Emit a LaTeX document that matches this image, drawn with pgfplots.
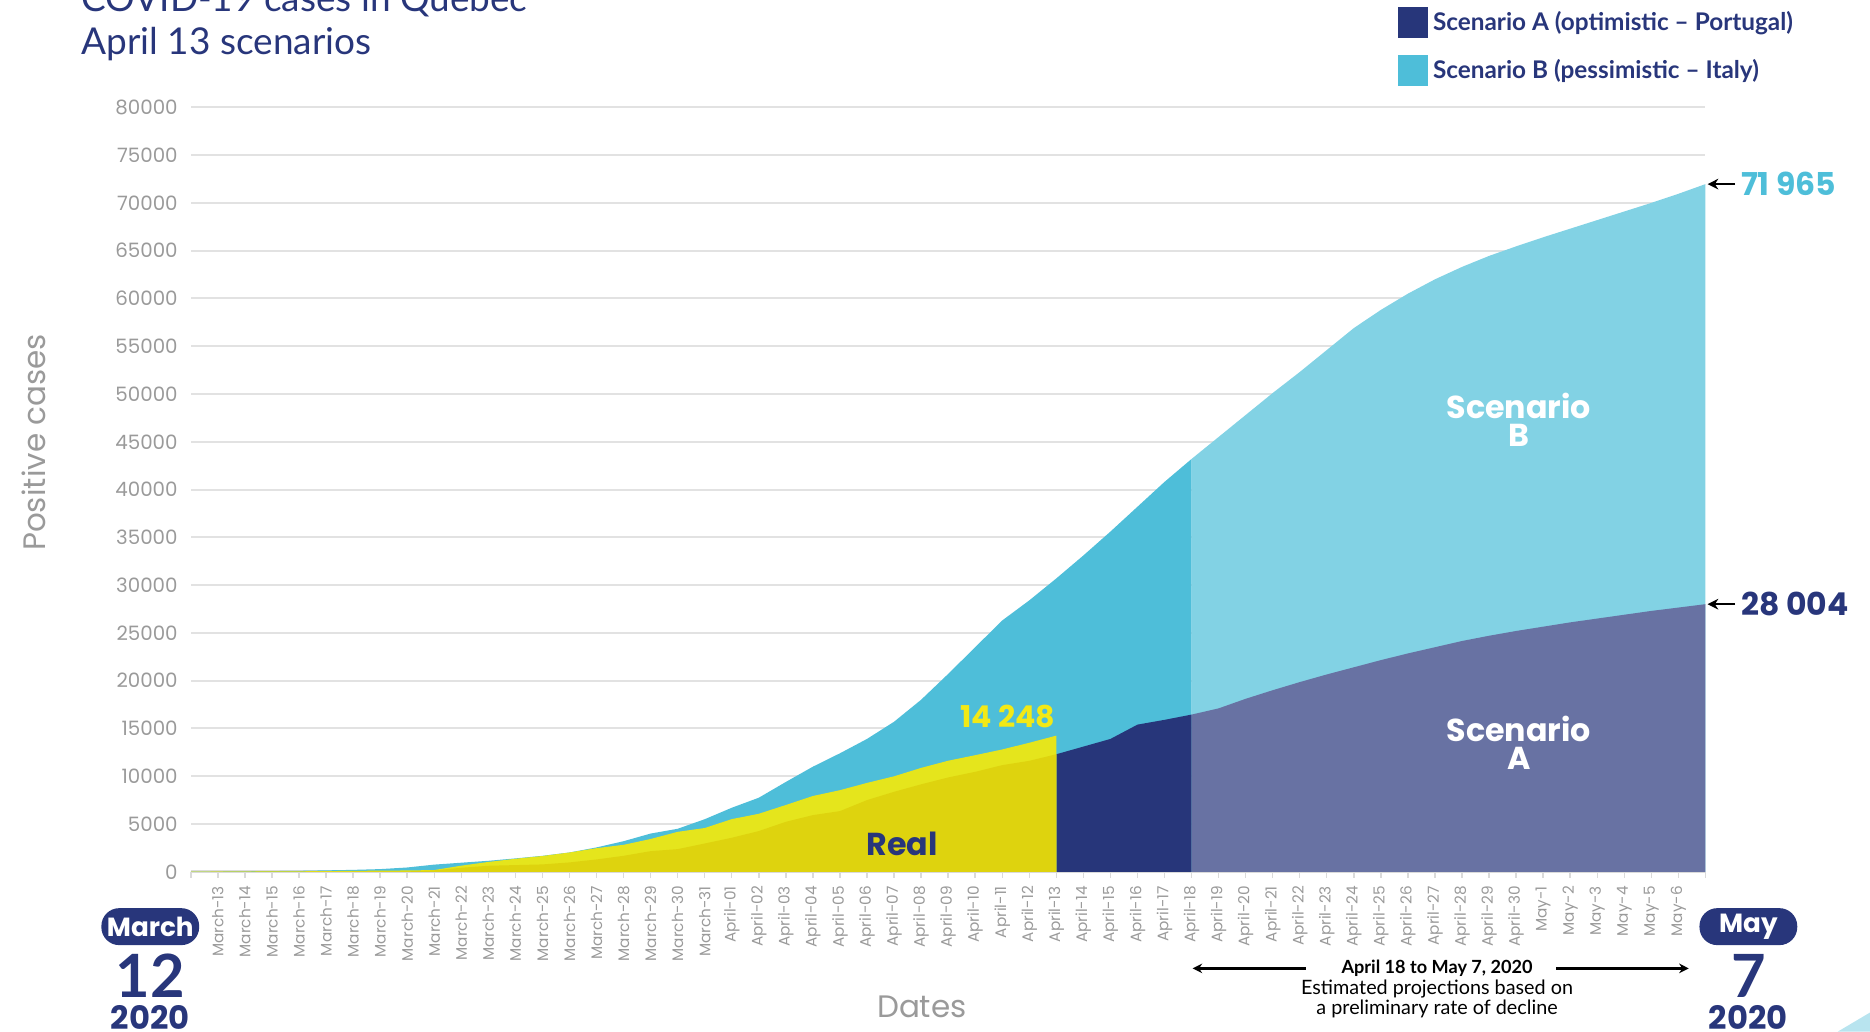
\documentclass[border=0pt]{standalone}
\usepackage{pgfplots}
\pgfplotsset{compat=1.18}
\usepackage{fontspec}
\setmainfont{Lato}
\newfontfamily\pop{Poppins}
\usetikzlibrary{arrows.meta}
\definecolor{navy}{HTML}{28367B}
\definecolor{bdark}{HTML}{4EBED9}
\definecolor{blight}{HTML}{82D2E4}
\definecolor{adark}{HTML}{27367A}
\definecolor{alight}{HTML}{6872A3}
\definecolor{rbright}{HTML}{E5E51C}
\definecolor{rdark}{HTML}{DED30E}
\definecolor{ylab}{HTML}{F2E916}
\definecolor{gridgray}{HTML}{E2E2E2}
\definecolor{axgray}{HTML}{DADADA}
\definecolor{tickgray}{HTML}{9A9A9A}
\definecolor{corner}{HTML}{B8E4EF}
\begin{document}
\begin{tikzpicture}
\begin{axis}[
  at={(0pt,0pt)}, anchor=south west,
  scale only axis, width=635pt, height=320.5pt,
  xmin=0, xmax=56, ymin=0, ymax=80000,
  clip=false,
  axis x line*=bottom, axis y line*=left,
  x axis line style={draw=axgray, line width=1.2pt, -},
  y axis line style={draw=none},
  ymajorgrids, grid style={draw=gridgray, line width=0.8pt},
  ytick={0,5000,...,80000},
  scaled y ticks=false,
  ytick style={draw=none},
  yticklabel style={font=\pop\fontsize{8.3}{10}\selectfont, text=tickgray, /pgf/number format/1000 sep={}, /pgf/number format/assume math mode=true, xshift=-2pt},
  xtick={0,...,56},
  xticklabels={,March-13,March-14,March-15,March-16,March-17,March-18,March-19,March-20,March-21,March-22,March-23,March-24,March-25,March-26,March-27,March-28,March-29,March-30,March-31,April-01,April-02,April-03,April-04,April-05,April-06,April-07,April-08,April-09,April-10,April-11,April-12,April-13,April-14,April-15,April-16,April-17,April-18,April-19,April-20,April-21,April-22,April-23,April-24,April-25,April-26,April-27,April-28,April-29,April-30,May-1,May-2,May-3,May-4,May-5,May-6,},
  xtick align=outside,
  major tick length=2.5pt,
  x tick style={draw=axgray, line width=0.6pt},
  xticklabel style={rotate=90, anchor=east, font=\pop\fontsize{6.4}{7}\selectfont, text=tickgray},
  legend style={at={(axis description cs:0.797,1.1326)}, anchor=north west, draw=none, fill=none,
    font=\bfseries\fontsize{10.2}{12}\selectfont, text=navy, row sep=6.75pt, inner sep=0pt},
  legend cell align=left,
  legend image code/.code={\path[#1] (0pt,-6.5pt) rectangle (12.5pt,6.5pt);},
]
\addlegendimage{fill=adark, draw=none}
\addlegendentry{Scenario A (optimistic – Portugal)}
\addlegendimage{fill=bdark, draw=none}
\addlegendentry{Scenario B (pessimistic – Italy)}

% Scenario B, observed period
\addplot[fill=bdark, draw=none, forget plot] coordinates {
(0,20) (1,25) (2,50) (3,75) (4,100) (5,150) (6,200) (7,280) (8,450) (9,750)
(10,950) (11,1150) (12,1400) (13,1670) (14,2020) (15,2550) (16,3200) (17,4000)
(18,4500) (19,5500) (20,6700) (21,7750) (22,9400) (23,11000) (24,12400)
(25,13900) (26,15700) (27,18000) (28,20700) (29,23500) (30,26300) (31,28400)
(32,30700) (33,33100) (34,35600) (35,38200) (36,40800) (37,43200)} \closedcycle;
% Scenario B, projection
\addplot[fill=blight, draw=none, forget plot] coordinates {
(37,43200) (38,45500) (39,47800) (40,50100) (41,52300) (42,54600) (43,56900)
(44,58800) (45,60500) (46,62000) (47,63300) (48,64450) (49,65450) (50,66400)
(51,67300) (52,68200) (53,69100) (54,70000) (55,70950) (56,71965)} \closedcycle;
% Scenario A
\addplot[fill=adark, draw=none, forget plot] coordinates {
(32,12300) (33,13100) (34,13900) (35,15400) (36,15900) (37,16450)} \closedcycle;
\addplot[fill=alight, draw=none, forget plot] coordinates {
(37,16450) (38,17100) (39,18100) (40,19000) (41,19850) (42,20650) (43,21400)
(44,22150) (45,22850) (46,23500) (47,24150) (48,24700) (49,25200) (50,25650)
(51,26100) (52,26500) (53,26900) (54,27300) (55,27650) (56,28004)} \closedcycle;
% Real
\addplot[fill=rbright, draw=none, forget plot] coordinates {
(0,17) (1,21) (2,24) (3,39) (4,50) (5,74) (6,94) (7,121) (8,139) (9,181)
(10,640) (11,1030) (12,1360) (13,1650) (14,2020) (15,2470) (16,2820) (17,3430)
(18,4180) (19,4580) (20,5510) (21,6070) (22,6990) (23,7930) (24,8540)
(25,9300) (26,9990) (27,10870) (28,11620) (29,12200) (30,12800) (31,13500)
(32,14248)} \closedcycle;
\addplot[fill=rdark, draw=none, forget plot] coordinates {
(0,0) (8,40) (9,150) (10,420) (11,630) (12,700) (13,770) (14,980) (15,1290)
(16,1670) (17,2160) (18,2370) (19,2960) (20,3560) (21,4260) (22,5230)
(23,5930) (24,6350) (25,7500) (26,8370) (27,9150) (28,9870) (29,10460)
(30,11160) (31,11610) (32,12300)} \closedcycle;

% labels in the chart
\node[font=\pop\bfseries\fontsize{13.3}{15}\selectfont, text=navy] at (axis cs:26.3,2870) {Real};
\node[font=\pop\bfseries\fontsize{12.6}{14}\selectfont, text=ylab] at (axis cs:30.2,16230) {14 248};
\node[font=\pop\bfseries\fontsize{13.3}{12}\selectfont, text=white, align=center] at (axis cs:49.1,47300) {Scenario\\B};
\node[font=\pop\bfseries\fontsize{13.3}{12}\selectfont, text=white, align=center] at (axis cs:49.1,13480) {Scenario\\A};
\draw[-{Stealth[length=4.5pt,width=4.5pt]}, line width=1pt] (axis cs:57.1,71965) -- (axis cs:56.08,71965);
\node[anchor=west, font=\pop\bfseries\fontsize{13.2}{14}\selectfont, text=bdark, inner sep=0pt] at (axis cs:57.3,71965) {71 965};
\draw[-{Stealth[length=4.5pt,width=4.5pt]}, line width=1pt] (axis cs:57.1,28004) -- (axis cs:56.08,28004);
\node[anchor=west, font=\pop\bfseries\fontsize{13.2}{14}\selectfont, text=navy, inner sep=0pt] at (axis cs:57.3,28004) {28 004};
\end{axis}

% titles
\node[anchor=base west, inner sep=0pt, font=\fontsize{15.5}{17}\selectfont, text=navy] at (-46pt,360.5pt) {COVID-19 cases in Quebec};
\node[anchor=base west, inner sep=0pt, font=\fontsize{15.5}{17}\selectfont, text=navy] at (-46pt,342.5pt) {April 13 scenarios};
% axis titles
\node[rotate=90, font=\pop\fontsize{13}{15}\selectfont, text=tickgray] at (-66pt,180pt) {Positive cases};
\node[anchor=base, font=\pop\fontsize{13}{15}\selectfont, text=tickgray, inner sep=0pt] at (306.5pt,-61pt) {Dates};
% date badges
\node[fill=navy, rounded corners=7.5pt, minimum width=41pt, minimum height=15.5pt, inner sep=0pt, text=white, font=\pop\bfseries\fontsize{11}{12}\selectfont] at (-17pt,-23pt) {March};
\node[text=navy, font=\bfseries\fontsize{25}{27}\selectfont, inner sep=0pt] at (-17pt,-43.5pt) {12};
\node[text=navy, font=\pop\bfseries\fontsize{13.5}{15}\selectfont, inner sep=0pt] at (-17pt,-61pt) {2020};
\node[fill=navy, rounded corners=7.5pt, minimum width=41pt, minimum height=15.5pt, inner sep=0pt, text=white, font=\pop\bfseries\fontsize{11}{12}\selectfont] at (653pt,-23pt) {May};
\node[text=navy, font=\bfseries\fontsize{25}{27}\selectfont, inner sep=0pt] at (653pt,-43.5pt) {7};
\node[text=navy, font=\pop\bfseries\fontsize{13.5}{15}\selectfont, inner sep=0pt] at (653pt,-61pt) {2020};
% projection annotation
\draw[-{Stealth[length=4pt,width=4pt]}, line width=1pt] (467.5pt,-40.5pt) -- (420pt,-40.5pt);
\draw[-{Stealth[length=4pt,width=4pt]}, line width=1pt] (572.5pt,-40.5pt) -- (628pt,-40.5pt);
\node[font=\bfseries\fontsize{7.6}{9}\selectfont, inner sep=0pt] at (522.5pt,-40.5pt) {April 18 to May 7, 2020};
\node[font=\fontsize{8.3}{9}\selectfont, inner sep=0pt] at (522.5pt,-49pt) {Estimated projections based on};
\node[font=\fontsize{8.3}{9}\selectfont, inner sep=0pt] at (522.5pt,-57.5pt) {a preliminary rate of decline};
\fill[corner] (690.5pt,-67pt) -- (704pt,-59pt) -- (704pt,-67pt) -- cycle;
\pgfresetboundingbox
\path[use as bounding box] (-80pt,-67pt) rectangle (704pt,365.5pt);
\end{tikzpicture}
\end{document}
